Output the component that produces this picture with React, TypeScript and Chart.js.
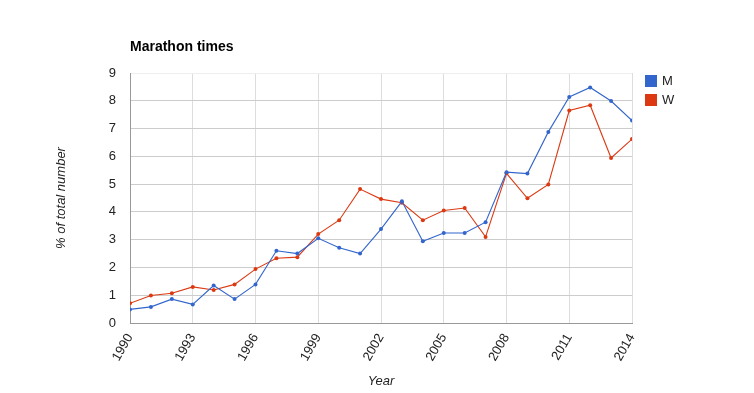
import React, { useEffect, useRef } from "react";
import { Chart, registerables } from "chart.js";

Chart.register(...registerables);

const years = [1990, 1991, 1992, 1993, 1994, 1995, 1996, 1997, 1998, 1999, 2000, 2001, 2002, 2003, 2004, 2005, 2006, 2007, 2008, 2009, 2010, 2011, 2012, 2013, 2014];
const menValues = [0.49, 0.58, 0.86, 0.67, 1.35, 0.86, 1.39, 2.6, 2.5, 3.05, 2.71, 2.5, 3.38, 4.38, 2.94, 3.24, 3.24, 3.63, 5.43, 5.38, 6.88, 8.14, 8.48, 7.99, 7.29];
const womenValues = [0.71, 0.99, 1.07, 1.3, 1.19, 1.39, 1.94, 2.33, 2.37, 3.2, 3.7, 4.82, 4.46, 4.33, 3.7, 4.05, 4.14, 3.1, 5.39, 4.49, 4.99, 7.65, 7.84, 5.94, 6.62];
const seriesNames = ["M", "W"];
const seriesColors = ["#3366cc", "#dc3912"];
const chartTitle = "Marathon times";
const xTitle = "Year";
const yTitle = "% of total number";

const FONT = "Arial, 'Liberation Sans', sans-serif";

const overlayPlugin = {
  id: "overlay",
  afterDraw(chart: any) {
    const ctx = chart.ctx;
    const area = chart.chartArea;
    ctx.save();
    ctx.fillStyle = "#000";
    ctx.font = `bold 14px ${FONT}`;
    ctx.textAlign = "left";
    ctx.textBaseline = "alphabetic";
    ctx.fillText(chartTitle, area.left, 51);
    ctx.font = `13px ${FONT}`;
    ctx.textBaseline = "middle";
    seriesNames.forEach((name, i) => {
      const y = area.top + 2 + i * 19;
      ctx.fillStyle = seriesColors[i];
      ctx.fillRect(area.right + 13, y, 12, 12);
      ctx.fillStyle = "#222";
      ctx.fillText(name, area.right + 30, y + 6.5);
    });
    ctx.restore();
  },
};

export default function App() {
  const ref = useRef<HTMLCanvasElement>(null);
  useEffect(() => {
    document.body.style.margin = "0";
    const canvas = ref.current!;
    const toPoints = (vals: number[]) => years.map((y, i) => ({ x: y, y: vals[i] }));
    const makeSet = (i: number, vals: number[]) => ({
      label: seriesNames[i],
      data: toPoints(vals),
      borderColor: seriesColors[i],
      backgroundColor: seriesColors[i],
      borderWidth: 1.1,
      pointRadius: 2,
      pointHoverRadius: 2,
      pointBorderWidth: 0,
      tension: 0,
    });
    const chart = new Chart(canvas, {
      type: "line",
      data: {
        datasets: [makeSet(0, menValues), makeSet(1, womenValues)],
      },
      options: {
        responsive: false,
        animation: false,
        layout: { padding: { left: 50, right: 122, top: 73, bottom: 0 } },
        plugins: {
          legend: { display: false },
          title: { display: false },
          tooltip: { enabled: false },
        },
        scales: {
          x: {
            type: "linear",
            min: 1990,
            max: 2014,
            afterFit(scale: any) {
              scale.height = 70;
            },
            ticks: {
              stepSize: 3,
              autoSkip: false,
              maxRotation: 60,
              minRotation: 60,
              padding: 8,
              color: "#222",
              font: { family: FONT, size: 13 },
              callback: (v: any) => String(v),
            },
            grid: {
              color: "#dddddd",
              drawTicks: false,
            },
            border: { color: "#999999", width: 1 },
            title: {
              display: true,
              text: xTitle,
              color: "#222",
              font: { family: FONT, size: 13, style: "italic" },
              padding: { top: 4, bottom: 4 },
            },
          },
          y: {
            min: 0,
            max: 9,
            afterFit(scale: any) {
              scale.width = 80;
            },
            ticks: {
              stepSize: 1,
              padding: 14,
              color: "#222",
              font: { family: FONT, size: 13 },
            },
            grid: {
              color: (c: any) => (c.tick && c.tick.value === 9 ? "#eeeeee" : "#cccccc"),
              drawTicks: false,
            },
            border: { color: "#999999", width: 1 },
            title: {
              display: true,
              text: yTitle,
              color: "#222",
              font: { family: FONT, size: 13, style: "italic" },
              padding: { top: 4, bottom: 4 },
            },
          },
        },
      },
      plugins: [overlayPlugin],
    } as any);
    return () => chart.destroy();
  }, []);
  return (
    <div style={{ width: 754, height: 393 }}>
      <canvas ref={ref} width={754} height={393} style={{ display: "block", width: 754, height: 393 }} />
    </div>
  );
}
